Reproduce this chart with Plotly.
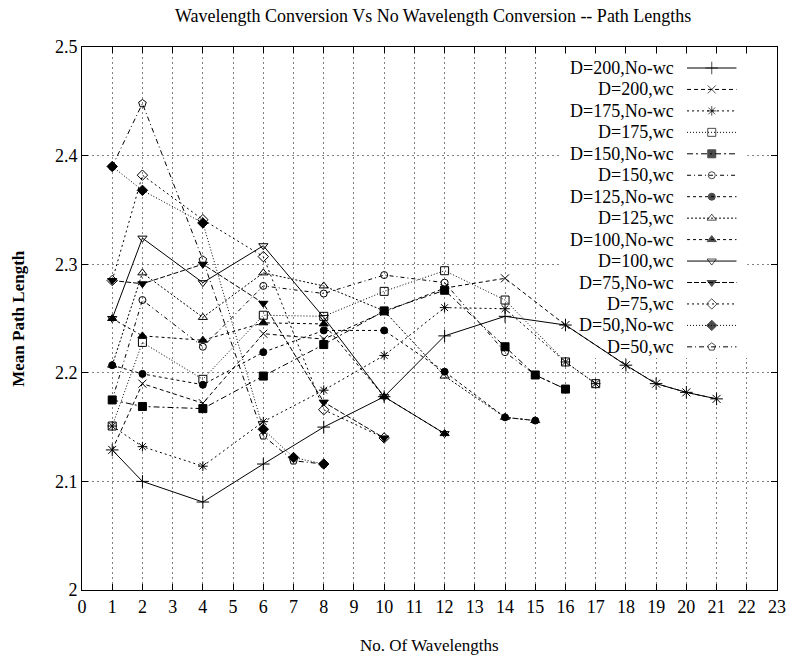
import plotly.graph_objects as go

# ---------------- data ----------------
title_text = "Wavelength Conversion Vs No Wavelength Conversion -- Path Lengths"
x_label = "No. Of Wavelengths"
y_label = "Mean Path Length"

x_ticks = list(range(0, 24))
y_ticks = [2.0, 2.1, 2.2, 2.3, 2.4, 2.5]
y_tick_labels = ["2", "2.1", "2.2", "2.3", "2.4", "2.5"]

x_d200 = [1, 2, 4, 6, 8, 10, 12, 14, 16, 18, 19, 20, 21]
x_d175 = [1, 2, 4, 6, 8, 10, 12, 14, 16, 17]
x_d150 = [1, 2, 4, 6, 8, 10, 12, 14, 15, 16]
x_d125 = [1, 2, 4, 6, 8, 10, 12, 14, 15]
x_d100 = [1, 2, 4, 6, 8, 10, 12]
x_d75 = [1, 2, 4, 6, 8, 10]
x_d50 = [1, 2, 4, 6, 7, 8]

d200_nowc = [2.129, 2.100, 2.081, 2.116, 2.150, 2.178, 2.234, 2.252, 2.244, 2.207, 2.190, 2.182, 2.176]
d200_wc = [2.129, 2.190, 2.172, 2.236, 2.231, 2.256, 2.278, 2.287, 2.244, 2.207, 2.190, 2.182, 2.176]
d175_nowc = [2.151, 2.132, 2.114, 2.155, 2.184, 2.216, 2.260, 2.259, 2.210, 2.190]
d175_wc = [2.151, 2.228, 2.194, 2.253, 2.252, 2.275, 2.294, 2.267, 2.210, 2.190]
d150_nowc = [2.175, 2.169, 2.167, 2.197, 2.226, 2.257, 2.276, 2.224, 2.198, 2.185]
d150_wc = [2.175, 2.267, 2.224, 2.280, 2.273, 2.290, 2.283, 2.219, 2.198, 2.185]
d125_nowc = [2.207, 2.199, 2.189, 2.219, 2.239, 2.239, 2.201, 2.159, 2.156]
d125_wc = [2.207, 2.292, 2.251, 2.292, 2.280, 2.257, 2.197, 2.159, 2.156]
d100_nowc = [2.250, 2.234, 2.230, 2.246, 2.245, 2.178, 2.144]
d100_wc = [2.250, 2.324, 2.283, 2.317, 2.251, 2.178, 2.144]
d75_nowc = [2.285, 2.282, 2.300, 2.264, 2.173, 2.140]
d75_wc = [2.285, 2.382, 2.341, 2.307, 2.166, 2.140]
d50_nowc = [2.390, 2.368, 2.338, 2.148, 2.122, 2.116]
d50_wc = [2.390, 2.448, 2.304, 2.142, 2.119, 2.116]

names = ["D=200,No-wc", "D=200,wc", "D=175,No-wc", "D=175,wc",
         "D=150,No-wc", "D=150,wc", "D=125,No-wc", "D=125,wc",
         "D=100,No-wc", "D=100,wc", "D=75,No-wc", "D=75,wc",
         "D=50,No-wc", "D=50,wc"]
xs = [x_d200, x_d200, x_d175, x_d175, x_d150, x_d150, x_d125, x_d125,
      x_d100, x_d100, x_d75, x_d75, x_d50, x_d50]
ys = [d200_nowc, d200_wc, d175_nowc, d175_wc, d150_nowc, d150_wc,
      d125_nowc, d125_wc, d100_nowc, d100_wc, d75_nowc, d75_wc,
      d50_nowc, d50_wc]

# ---------------- styles ----------------
symbols = ["cross-thin-open", "x-thin-open", "asterisk-open", "square-open",
           "square", "circle-open", "circle", "triangle-up-open",
           "triangle-up", "triangle-down-open", "triangle-down", "diamond-open",
           "diamond", "pentagon-open"]
sizes = [9, 8, 8, 8, 8, 7, 7, 8, 8, 8, 8, 8, 8, 8]
dashes = ["solid", "4px,3px", "2px,3px", "1px,2px",
          "6px,3px,2px,3px", "4px,3px,1px,3px", "3px,3px", "2px,2px",
          "3px,3px", "solid", "5px,2px", "2px,3px",
          "1px,2px", "5px,3px,1px,3px"]

FONT = "Liberation Serif"
W, H = 798, 661
L, R, T, B = 82, 13, 47, 71
X0, X1 = 0, 23
Y0, Y1 = 2.0, 2.5


def px2x(px):
    return X0 + (px - L) / (W - L - R) * (X1 - X0)


def py2y(py):
    return Y0 + (H - B - py) / (H - T - B) * (Y1 - Y0)


def paper_x(px):
    return (px - L) / (W - L - R)


def paper_y(py):
    return (H - B - py) / (H - T - B)


fig = go.Figure()

for i, name in enumerate(names):
    fig.add_trace(go.Scatter(
        x=xs[i], y=ys[i], mode="lines+markers", name=name, showlegend=False,
        line=dict(color="black", width=1, dash=dashes[i]),
        marker=dict(symbol=symbols[i], size=sizes[i], color="black",
                    line=dict(color="black", width=1)),
        cliponaxis=False,
    ))

# ---- custom gnuplot-style key (text left, sample right) ----
key_top = 68
key_step = 21.45
text_right = 683
sample_left, sample_right = 694, 744
annotations = []
for i, name in enumerate(names):
    py = key_top + i * key_step
    yy = py2y(py)
    fig.add_trace(go.Scatter(
        x=[px2x(sample_left), px2x((sample_left + sample_right) / 2), px2x(sample_right)],
        y=[yy, yy, yy], mode="lines+markers", showlegend=False, hoverinfo="skip",
        line=dict(color="black", width=1, dash=dashes[i]),
        marker=dict(symbol=symbols[i], size=[0, sizes[i], 0], color="black",
                    line=dict(color="black", width=1)),
    ))
    annotations.append(dict(
        x=px2x(text_right), y=yy, xref="x", yref="y", text=name,
        showarrow=False, xanchor="right", yanchor="middle",
        font=dict(family=FONT, size=18, color="black")))

annotations.append(dict(
    x=paper_x(437), y=paper_y(16), xref="paper", yref="paper", text=title_text,
    showarrow=False, xanchor="center", yanchor="middle",
    font=dict(family=FONT, size=18, color="black")))
annotations.append(dict(
    x=paper_x(433), y=paper_y(645), xref="paper", yref="paper", text=x_label,
    showarrow=False, xanchor="center", yanchor="middle",
    font=dict(family=FONT, size=17, color="black")))
annotations.append(dict(
    x=paper_x(18), y=paper_y(318), xref="paper", yref="paper",
    text="<b>" + y_label + "</b>", textangle=-90,
    showarrow=False, xanchor="center", yanchor="middle",
    font=dict(family=FONT, size=17, color="black")))

shapes = [dict(type="rect", xref="x", yref="y", layer="between",
               x0=px2x(565), x1=px2x(755), y0=py2y(57), y1=py2y(358),
               fillcolor="white", line=dict(width=0))]

axis_common = dict(
    showline=True, linecolor="black", linewidth=1, mirror="ticks",
    ticks="inside", ticklen=6, tickcolor="black", tickwidth=1,
    showgrid=True, gridcolor="#808080", gridwidth=1, griddash="2px,3px",
    zeroline=False, tickfont=dict(family=FONT, size=18, color="black"),
)

fig.update_layout(
    width=W, height=H, autosize=False,
    margin=dict(l=L, r=R, t=T, b=B, pad=0),
    paper_bgcolor="white", plot_bgcolor="white",
    showlegend=False,
    xaxis=dict(range=[X0, X1], tickmode="array", tickvals=x_ticks,
               ticktext=[str(v) for v in x_ticks], **axis_common),
    yaxis=dict(range=[Y0, Y1], tickmode="array", tickvals=y_ticks,
               ticktext=y_tick_labels, **axis_common),
    annotations=annotations,
    shapes=shapes,
)

fig.write_html("out.html")
